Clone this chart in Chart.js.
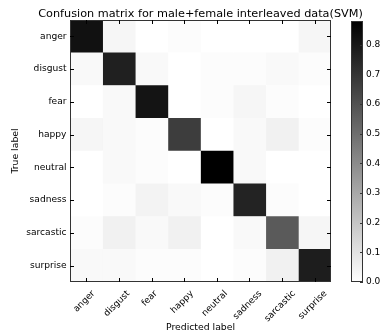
<!DOCTYPE html>
<html>
<head>
<meta charset="utf-8">
<script src="https://cdn.jsdelivr.net/npm/chart.js@4.4.1/dist/chart.umd.min.js"></script>
<style>
  html, body { margin: 0; padding: 0; background: #fff; }
  #wrap { position: relative; width: 380px; height: 332px; }
  #matrix { position: absolute; left: 0; top: 0; width: 380px; height: 332px; }
  #cbar { position: absolute; left: 340px; top: 0; width: 40px; height: 332px; }
</style>
</head>
<body>
<div id="wrap">
  <canvas id="matrix" width="380" height="332"></canvas>
  <canvas id="cbar" width="40" height="332"></canvas>
</div>
<script>
// classes (true label rows, predicted label columns)
var classes = ['anger', 'disgust', 'fear', 'happy', 'neutral', 'sadness', 'sarcastic', 'surprise'];

// normalized confusion matrix, one array per true label
var anger     = [0.82, 0.03, 0.00, 0.01, 0.00, 0.00, 0.00, 0.03];
var disgust   = [0.02, 0.77, 0.02, 0.00, 0.01, 0.01, 0.02, 0.01];
var fear      = [0.00, 0.02, 0.81, 0.00, 0.01, 0.03, 0.01, 0.00];
var happy     = [0.03, 0.02, 0.01, 0.67, 0.00, 0.02, 0.05, 0.01];
var neutral   = [0.00, 0.02, 0.01, 0.00, 0.88, 0.02, 0.00, 0.00];
var sadness   = [0.00, 0.01, 0.04, 0.02, 0.01, 0.76, 0.01, 0.00];
var sarcastic = [0.01, 0.05, 0.02, 0.05, 0.00, 0.02, 0.57, 0.03];
var surprise  = [0.02, 0.02, 0.01, 0.01, 0.00, 0.01, 0.05, 0.78];
var rows = [anger, disgust, fear, happy, neutral, sadness, sarcastic, surprise];

// colour scale
var colorMax = 0.88;
var colorTicks = [0.0, 0.1, 0.2, 0.3, 0.4, 0.5, 0.6, 0.7, 0.8];

var titleText = 'Confusion matrix for male+female interleaved data(SVM)';
var FONT = 'DejaVu Sans';

function grey(v) {
    var t = Math.max(0, Math.min(1, v / colorMax));
    var g = Math.round(255 * (1 - t));
    return 'rgb(' + g + ',' + g + ',' + g + ')';
}

// one dataset per predicted column, floating bar spanning that column
var datasets = classes.map(function (name, c) {
    return {
        label: name,
        data: rows.map(function () { return [c, c + 1]; }),
        backgroundColor: rows.map(function (r) { return grey(r[c]); }),
        borderWidth: 0,
        barPercentage: 1,
        categoryPercentage: 1,
        grouped: false
    };
});

// title, frame, inward ticks and rotated x labels like matplotlib
var matrixFrame = {
    id: 'matrixFrame',
    afterDraw: function (chart) {
        var ctx = chart.ctx, a = chart.chartArea;
        var x = chart.scales.x, y = chart.scales.y;
        ctx.save();
        ctx.strokeStyle = '#333';
        ctx.lineWidth = 1;
        ctx.strokeRect(Math.round(a.left) + 0.5, Math.round(a.top) + 0.5,
            Math.round(a.width) - 1, Math.round(a.height) - 1);
        ctx.strokeStyle = '#000';
        ctx.beginPath();
        classes.forEach(function (name, i) {
            var px = Math.round(x.getPixelForValue(i + 0.5)) + 0.5;
            var py = Math.round(y.getPixelForValue(i)) + 0.5;
            ctx.moveTo(px, a.top); ctx.lineTo(px, a.top + 4);
            ctx.moveTo(px, a.bottom); ctx.lineTo(px, a.bottom - 4);
            ctx.moveTo(a.left, py); ctx.lineTo(a.left + 4, py);
            ctx.moveTo(a.right, py); ctx.lineTo(a.right - 4, py);
        });
        ctx.stroke();

        ctx.fillStyle = '#000';
        ctx.font = '11.25px "' + FONT + '"';
        ctx.textAlign = 'center';
        ctx.textBaseline = 'alphabetic';
        ctx.fillText(titleText, (a.left + a.right) / 2, 17);

        ctx.font = '9px "' + FONT + '"';
        ctx.textBaseline = 'middle';
        classes.forEach(function (name, i) {
            var px = x.getPixelForValue(i + 0.5);
            var w = ctx.measureText(name).width;
            var box = (w + 9) * Math.SQRT1_2;
            ctx.save();
            ctx.translate(px - 2, a.bottom + 7 + box / 2);
            ctx.rotate(-Math.PI / 4);
            ctx.fillText(name, 0, 0);
            ctx.restore();
        });
        ctx.restore();
    }
};

new Chart(document.getElementById('matrix'), {
    type: 'bar',
    data: { labels: classes, datasets: datasets },
    options: {
        indexAxis: 'y',
        responsive: false,
        animation: false,
        layout: { padding: { top: 20, right: 49 } },
        plugins: {
            legend: { display: false },
            tooltip: { enabled: false }
        },
        scales: {
            x: {
                type: 'linear', min: 0, max: 8,
                grid: { display: false, drawTicks: false },
                border: { display: false },
                ticks: { display: false },
                title: {
                    display: true, text: 'Predicted label', color: '#000',
                    font: { family: FONT, size: 9.3 },
                    padding: { top: 0, bottom: -1 }
                },
                afterFit: function (s) { s.height = 50; }
            },
            y: {
                type: 'category',
                grid: { display: false, drawTicks: false },
                border: { display: false },
                ticks: { color: '#000', padding: 3.5, font: { family: FONT, size: 9.1 } },
                title: {
                    display: true, text: 'True label', color: '#000',
                    font: { family: FONT, size: 9.3 },
                    padding: { top: 10, bottom: 0 }
                },
                afterFit: function (s) { s.width = 70; }
            }
        }
    },
    plugins: [matrixFrame]
});

// colour bar
var cbarFrame = {
    id: 'cbarFrame',
    afterDraw: function (chart) {
        var ctx = chart.ctx, a = chart.chartArea, y = chart.scales.y;
        ctx.save();
        ctx.strokeStyle = '#333';
        ctx.lineWidth = 1;
        ctx.strokeRect(Math.round(a.left) + 0.5, Math.round(a.top) + 0.5,
            Math.round(a.width) - 1, Math.round(a.height) - 1);
        ctx.beginPath();
        colorTicks.forEach(function (v) {
            var py = Math.round(y.getPixelForValue(v)) + 0.5;
            ctx.moveTo(a.right, py); ctx.lineTo(a.right - 3, py);
        });
        ctx.stroke();
        ctx.restore();
    }
};

new Chart(document.getElementById('cbar'), {
    type: 'bar',
    data: {
        labels: [''],
        datasets: [{
            data: [[0, colorMax]],
            borderWidth: 0,
            barPercentage: 1,
            categoryPercentage: 1,
            backgroundColor: function (c) {
                var a = c.chart.chartArea;
                if (!a) return '#888';
                var g = c.chart.ctx.createLinearGradient(0, a.bottom, 0, a.top);
                g.addColorStop(0, '#fff');
                g.addColorStop(1, '#000');
                return g;
            }
        }]
    },
    options: {
        responsive: false,
        animation: false,
        layout: { padding: { left: 11, top: 21, bottom: 50 } },
        plugins: { legend: { display: false }, tooltip: { enabled: false } },
        scales: {
            x: { display: false },
            y: {
                position: 'right',
                min: 0, max: colorMax,
                grid: { display: false, drawTicks: false },
                border: { display: false },
                afterBuildTicks: function (s) {
                    s.ticks = colorTicks.map(function (v) { return { value: v }; });
                },
                ticks: {
                    color: '#000', padding: 3,
                    font: { family: FONT, size: 9 },
                    callback: function (v) { return Number(v).toFixed(1); }
                },
                afterFit: function (s) { s.width = 17; }
            }
        }
    },
    plugins: [cbarFrame]
});
</script>
</body>
</html>
